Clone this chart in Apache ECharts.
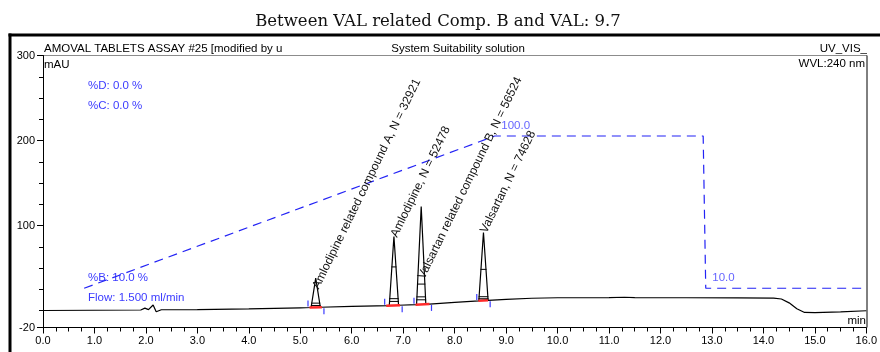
<!DOCTYPE html>
<html>
<head>
<meta charset="utf-8">
<script src="https://cdn.jsdelivr.net/npm/echarts@6/dist/echarts.min.js"></script>
<style>
  html, body { margin: 0; padding: 0; background: #fff; }
  #chart { width: 880px; height: 352px; }
</style>
</head>
<body>
<div id="chart"></div>
<script>
// detector trace, [minutes, mAU]
var trace = [
  [0.0, 0.0], [1.0, 0.3], [1.9, 0.6], [1.98, 2.8], [2.05, 1.0], [2.14, 6.5], [2.2, -1.5], [2.3, 0.9],
  [3.0, 1.0], [4.0, 1.8], [5.0, 3.2],
  [5.21, 3.5], [5.30, 38], [5.39, 3.8],
  [6.0, 4.8], [6.73, 5.8], [6.82, 87], [6.91, 6.2],
  [7.26, 6.8], [7.35, 122.4], [7.44, 7.3],
  [8.0, 9.6], [8.47, 11.4], [8.56, 91.8], [8.65, 12.0],
  [9.0, 13.2], [9.5, 14.4], [10.0, 15.0], [11.0, 15.2], [11.3, 15.6], [11.5, 15.2], [12.5, 15.0],
  [13.5, 14.8], [14.2, 14.5], [14.35, 13.5], [14.5, 9.0], [14.65, 2.0], [14.8, -2.3], [15.0, -2.5],
  [15.5, -1.6], [16.0, -0.3]
];

// gradient program, %B
var gradientB = [[0.8, 10], [8.78, 100], [12.83, 100], [12.88, 10], [16.0, 10]];
var gradientLabels = [[8.78, 100, '100.0'], [12.88, 10, '10.0']];

// peaks
var peakNames = ['Amlodipine related compound A', 'Amlodipine', 'Valsartan related compound B', 'Valsartan'];
var peakPlates = [32921, 52478, 56524, 74628];
var peakTimes = [5.30, 6.82, 7.35, 8.56];
var peakStarts = [5.15, 6.64, 7.21, 8.43];
var peakEnds = [5.46, 6.98, 7.55, 8.69];
var labelValues = [26, 87, 38, 92];
var markerLevels = [[0.07, 0.15], [0.06, 0.1, 0.56], [0.05, 0.08, 0.21], [0.03, 0.06, 0.46]];

var yMajorTicks = [-20, 100, 200, 300];
var yMinorTicks = [0, 25, 50, 75, 125, 150, 175, 225, 250, 275];

var sans = '"Liberation Sans", Arial, sans-serif';
var blue = '#3b3bff';

function traceAt(t) {
  for (var i = 1; i < trace.length; i++) {
    if (trace[i][0] >= t) {
      var a = trace[i - 1], b = trace[i];
      return a[1] + (b[1] - a[1]) * (t - a[0]) / (b[0] - a[0]);
    }
  }
  return trace[trace.length - 1][1];
}

function apexIndex(t) {
  for (var i = 0; i < trace.length; i++) {
    if (trace[i][0] === t) return i;
  }
  return -1;
}

function renderPeak(params, api) {
  var k = params.dataIndex;
  var kids = [];
  var i = apexIndex(peakTimes[k]);
  var L = trace[i - 1], A = trace[i], R = trace[i + 1];
  var base = Math.min(L[1], R[1]);

  // integration baseline (red) and delimiters (blue)
  var s = api.coord([peakStarts[k], traceAt(peakStarts[k])]);
  var e = api.coord([peakEnds[k], traceAt(peakEnds[k])]);
  var rs = api.coord([peakStarts[k] + 0.03, traceAt(peakStarts[k] + 0.03)]);
  var re = api.coord([peakEnds[k] - 0.04, traceAt(peakEnds[k] - 0.04)]);
  kids.push({ type: 'line', shape: { x1: rs[0], y1: rs[1], x2: re[0], y2: re[1] },
    style: { stroke: '#ff2a2a', lineWidth: 2.5 } });
  kids.push({ type: 'line', shape: { x1: s[0], y1: s[1] - 1, x2: s[0], y2: s[1] - 7 },
    style: { stroke: blue, lineWidth: 1.2 } });
  kids.push({ type: 'line', shape: { x1: e[0], y1: e[1] + 1, x2: e[0], y2: e[1] + 7 },
    style: { stroke: blue, lineWidth: 1.2 } });

  // width markers across the peak
  markerLevels[k].forEach(function (lv) {
    var v = base + lv * (A[1] - base);
    var tl = L[0] + (v - L[1]) / (A[1] - L[1]) * (A[0] - L[0]);
    var tr = R[0] + (v - R[1]) / (A[1] - R[1]) * (A[0] - R[0]);
    var p1 = api.coord([tl, v]), p2 = api.coord([tr, v]);
    kids.push({ type: 'line', shape: { x1: p1[0] - 0.5, y1: p1[1], x2: p2[0] + 0.5, y2: p2[1] },
      style: { stroke: '#000', lineWidth: 1 } });
  });

  // rotated peak label
  var p = api.coord([peakTimes[k], labelValues[k]]);
  kids.push({ type: 'text', x: p[0], y: p[1], rotation: 64 * Math.PI / 180,
    style: { text: peakNames[k] + ', N = ' + peakPlates[k], font: '12px ' + sans, fill: '#111',
      align: 'left', verticalAlign: 'middle' } });

  return { type: 'group', children: kids };
}

var chart = echarts.init(document.getElementById('chart'));

function txt(x, y, s, opt) {
  opt = opt || {};
  return { type: 'text', x: x, y: y, silent: true,
    style: { text: s, font: (opt.size || 11.5) + 'px ' + (opt.family || sans), fill: opt.color || '#000',
      align: opt.align || 'left', verticalAlign: 'middle' } };
}

var option = {
  animation: false,
  grid: { left: 43, right: 13, top: 55.5, bottom: 24.5 },
  xAxis: {
    type: 'value', min: 0, max: 16, interval: 1,
    axisLine: { onZero: false, lineStyle: { color: '#000', width: 1 } },
    axisTick: { length: 6, lineStyle: { color: '#000' } },
    minorTick: { show: true, splitNumber: 4, length: 4, lineStyle: { color: '#000' } },
    splitLine: { show: false },
    axisLabel: { margin: 8, color: '#000', fontSize: 11, fontFamily: sans,
      formatter: function (v) { return v.toFixed(1); } }
  },
  yAxis: [
    {
      type: 'value', min: -20, max: 300,
      axisLine: { show: true, lineStyle: { color: '#000', width: 1 } },
      axisTick: { show: true, length: 6, customValues: yMajorTicks, lineStyle: { color: '#000' } },
      axisLabel: { show: true, margin: 8, customValues: yMajorTicks, color: '#000', fontSize: 11, fontFamily: sans },
      splitLine: { show: false }
    },
    { type: 'value', min: -13.2, max: 147.6, show: false, splitLine: { show: false } },
    {
      type: 'value', min: -20, max: 300, position: 'left',
      axisLine: { show: false },
      axisTick: { show: true, length: 4, customValues: yMinorTicks, lineStyle: { color: '#000' } },
      axisLabel: { show: false },
      splitLine: { show: false }
    }
  ],
  series: [
    {
      type: 'line', name: 'trace', data: trace, yAxisIndex: 0,
      symbol: 'none', lineStyle: { color: '#000', width: 1.2 }, z: 3
    },
    {
      type: 'line', name: '%B', data: gradientB, yAxisIndex: 1,
      symbol: 'none', lineStyle: { color: '#2323f5', width: 1.2, type: [9, 6] }, z: 2
    },
    {
      type: 'scatter', data: gradientLabels, yAxisIndex: 1, symbolSize: 1,
      itemStyle: { color: 'rgba(0,0,0,0)' },
      label: { show: true, position: 'right', distance: 6, offset: [0, -10],
        formatter: function (p) { return p.value[2]; },
        color: blue, fontSize: 11.5, fontFamily: sans }
    },
    {
      type: 'custom', data: peakTimes.map(function (t, k) { return [t, labelValues[k]]; }),
      yAxisIndex: 0, renderItem: renderPeak, z: 5
    }
  ],
  graphic: [
    // outer frame
    { type: 'line', silent: true, shape: { x1: 10, y1: 33.5, x2: 10, y2: 352 }, style: { stroke: '#000', lineWidth: 3 } },
    { type: 'line', silent: true, shape: { x1: 8.5, y1: 35, x2: 880, y2: 35 }, style: { stroke: '#000', lineWidth: 3 } },
    // plot header and right border
    { type: 'line', silent: true, shape: { x1: 43, y1: 55.5, x2: 867, y2: 55.5 }, style: { stroke: '#8c8c8c', lineWidth: 1 } },
    { type: 'line', silent: true, shape: { x1: 867, y1: 55.5, x2: 867, y2: 327.5 }, style: { stroke: '#000', lineWidth: 1 } },
    txt(438, 22, 'Between VAL related Comp. B and VAL: 9.7', { size: 16.5, family: '"DejaVu Serif", serif', align: 'center', color: '#111' }),
    txt(44, 49, 'AMOVAL TABLETS ASSAY #25 [modified by u'),
    txt(458, 49, 'System Suitability solution', { align: 'center' }),
    txt(867, 49, 'UV_VIS_', { align: 'right' }),
    txt(44, 65, 'mAU'),
    txt(865, 64, 'WVL:240 nm', { align: 'right' }),
    txt(866, 321, 'min', { align: 'right' }),
    txt(88, 86, '%D: 0.0 %', { color: blue }),
    txt(88, 106, '%C: 0.0 %', { color: blue }),
    txt(88, 278, '%B: 10.0 %', { color: blue }),
    txt(88, 298, 'Flow: 1.500 ml/min', { color: blue })
  ]
};

chart.setOption(option);
</script>
</body>
</html>
